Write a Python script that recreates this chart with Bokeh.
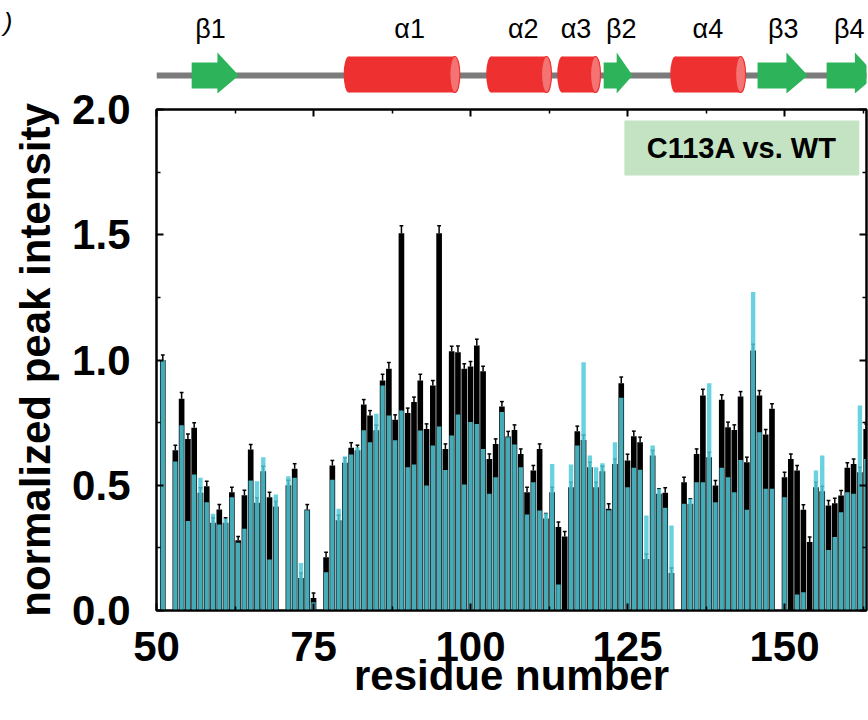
from bokeh.plotting import figure
from bokeh.models import (Range1d, LinearAxis, FixedTicker, PrintfTickFormatter,
                          CustomJSTickFormatter, BoxAnnotation, Label)
from bokeh.layouts import column
from bokeh.embed import file_html
from bokeh.resources import INLINE
from bokeh.core.properties import value

nan = float("nan")

# ---------------- data ----------------
residues = list(range(51, 164))

black_vals = [
    1.00, nan, 0.64, 0.845, 0.685, 0.73, 0.47, 0.496, 0.35, 0.403,      # 51-60
    0.35, 0.472, 0.28, 0.46, 0.643, 0.43, 0.556, 0.452, 0.415, nan,     # 61-70
    0.50, 0.566, 0.13, 0.403, 0.05, nan, 0.213, 0.579, 0.36, 0.59,      # 71-80
    0.65, 0.64, 0.822, 0.778, 0.72, 0.918, 0.965, 0.761, 1.506, 0.788,  # 81-90
    0.832, 0.918, 0.725, 0.898, 1.506, 0.645, 1.035, 1.031, 0.965, 0.974,  # 91-100
    1.058, 0.955, 0.605, 0.665, 0.814, 0.695, 0.721, 0.625, 0.472, 0.559,  # 101-110
    0.645, 0.367, 0.472, 0.333, 0.295, 0.492, 0.716, 0.681, 0.572, 0.492,  # 111-120
    0.556, 0.406, 0.585, 0.907, 0.599, 0.696, 0.672, 0.206, 0.619, 0.466,  # 121-130
    0.47, 0.15, nan, 0.512, 0.426, 0.625, 0.858, 0.612, 0.499, 0.841,   # 131-140
    0.732, 0.721, 0.854, 0.592, 1.038, 0.858, 0.703, 0.805, nan, 0.532,  # 141-150
    0.605, 0.559, 0.402, 0.273, 0.492, 0.476, 0.419, 0.428, 0.459, 0.57,  # 151-160
    0.585, 0.552, 0.725,                                                # 161-163
]

cyan_vals = [
    1.00, nan, 0.595, 0.74, 0.357, 0.543, 0.53, 0.432, 0.386, 0.343,
    0.366, 0.452, 0.27, 0.326, 0.519, 0.516, 0.612, 0.204, 0.463, nan,
    0.536, 0.53, 0.19, 0.40, 0.033, nan, 0.153, 0.522, 0.406, 0.615,
    0.623, 0.652, 0.72, 0.672, 0.785, 0.898, 0.778, 0.68, 0.798, 0.572,
    0.583, 0.719, 0.499, 0.659, 0.735, 0.561, 0.699, 0.782, 0.503, 0.752,
    0.745, 0.645, 0.466, 0.532, 0.792, 0.692, 0.663, 0.572, 0.383, 0.512,
    0.399, 0.388, 0.585, 0.104, nan, 0.583, 0.659, 0.991, 0.619, 0.572,
    0.588, 0.40, 0.672, 0.849, 0.492, 0.57, 0.562, 0.379, 0.659, 0.486,
    0.41, 0.339, nan, 0.426, 0.446, 0.512, 0.512, 0.907, 0.432, 0.57,
    0.532, 0.472, 0.601, 0.402, 1.271, 0.712, 0.486, 0.486, nan, 0.452,
    nan, 0.064, 0.073, nan, 0.559, 0.619, 0.242, 0.293, 0.392, 0.472,
    0.466, 0.818, 0.605,
]

black_err = [
    0.02, nan, 0.02, 0.025, 0.02, 0.02, 0.02, 0.02, 0.02, 0.02,
    0.02, 0.02, 0.015, 0.02, 0.02, 0.02, 0.02, 0.02, 0.02, nan,
    0.02, 0.02, 0.02, 0.02, 0.02, nan, 0.02, 0.02, 0.02, 0.02,
    0.02, 0.02, 0.02, 0.02, 0.02, 0.025, 0.025, 0.02, 0.03, 0.02,
    0.02, 0.025, 0.02, 0.02, 0.03, 0.02, 0.02, 0.025, 0.02, 0.02,
    0.025, 0.02, 0.02, 0.02, 0.02, 0.02, 0.02, 0.02, 0.02, 0.02,
    0.02, 0.02, 0.02, 0.02, 0.02, 0.02, 0.02, 0.02, 0.02, 0.02,
    0.02, 0.02, 0.02, 0.025, 0.025, 0.02, 0.02, 0.02, 0.02, 0.02,
    0.02, 0.02, nan, 0.02, 0.02, 0.02, 0.025, 0.02, 0.02, 0.02,
    0.02, 0.02, 0.02, 0.02, 0.025, 0.02, 0.02, 0.02, nan, 0.02,
    0.02, 0.02, 0.02, 0.02, 0.02, 0.02, 0.02, 0.02, 0.02, 0.02,
    0.02, 0.02, 0.02,
]

x_ticks = [50, 75, 100, 125, 150]
x_minor = [62.5, 87.5, 112.5, 137.5, 162.5]
y_ticks = [0.0, 0.5, 1.0, 1.5, 2.0]
y_minor = [0.25, 0.75, 1.25, 1.75]

# secondary structure (residue ranges) and label positions
ss_labels = ["β1", "α1", "α2", "α3", "β2", "α4", "β3", "β4"]
ss_kind = ["strand", "helix", "helix", "helix", "strand", "helix", "strand", "strand"]
ss_start = [55.6, 80.6, 103.3, 114.6, 121.2, 132.6, 145.7, 156.7]
ss_end = [63.1, 97.5, 112.1, 119.9, 125.8, 143.0, 153.7, 164.6]
ss_label_x = [58.6, 90.3, 108.4, 116.8, 124.0, 137.8, 149.8, 160.3]

legend_text = "C113A vs. WT"
corner_text = ")"   # fragment of the neighbouring panel letter, top-left corner

# ---------------- layout constants ----------------
X0, X1 = 50.0, 163.05
LEFT, FW, RIGHT = 155, 710, 3
TOP_H, GAP, FH = 93, 16, 501
kpx = FW / (X1 - X0)
FONT = "Liberation Sans"
RED = "#EE3030"
GREEN = "#2DB45B"
CYAN = "#4FCAD8"

xr = Range1d(X0, X1)

# ---------------- top: secondary structure ----------------
# y in pixels above the bottom of this strip
top = figure(x_range=xr, y_range=Range1d(0, TOP_H),
             frame_width=FW, frame_height=TOP_H,
             min_border_left=LEFT, min_border_right=RIGHT,
             min_border_top=0, min_border_bottom=0,
             output_backend="svg", toolbar_location=None,
             x_axis_location=None, y_axis_location="left")
top.outline_line_color = None
top.xgrid.grid_line_color = None
top.ygrid.grid_line_color = None

corner_y = TOP_H - 9
tya = top.yaxis[0]
tya.ticker = FixedTicker(ticks=[corner_y], minor_ticks=[])
tya.major_label_overrides = {corner_y: corner_text}
tya.axis_line_color = None
tya.major_tick_line_color = None
tya.minor_tick_line_color = None
tya.major_tick_in = 0
tya.major_tick_out = 0
tya.minor_tick_in = 0
tya.minor_tick_out = 0
tya.major_label_standoff = 144
tya.major_label_text_font = FONT
tya.major_label_text_font_size = "26px"
tya.major_label_text_font_style = "italic"
tya.major_label_text_color = "black"

LINE_Y = 18
top.line(x=[X0, X1 + 1], y=[LINE_Y, LINE_Y], line_width=6, line_color="#7B7B7B")

h_idx = [i for i, kd in enumerate(ss_kind) if kd == "helix"]
h_s = [ss_start[i] for i in h_idx]
h_e = [ss_end[i] for i in h_idx]
top.quad(left=h_s, right=h_e, bottom=LINE_Y - 17, top=LINE_Y + 19,
         fill_color=RED, line_color=None)
top.ellipse(x=h_s, y=LINE_Y + 1, width=10 / kpx, height=36, fill_color=RED, line_color=None)
top.ellipse(x=h_e, y=LINE_Y + 1, width=10 / kpx, height=36, fill_color="#F47474",
            line_color=RED, line_width=1.2)

s_idx = [i for i, kd in enumerate(ss_kind) if kd == "strand"]
xs, ys = [], []
for i in s_idx:
    s, e = ss_start[i], ss_end[i]
    h = min(3.4, 0.55 * (e - s))
    xs.append([s, e - h, e - h, e, e - h, e - h, s])
    ys.append([LINE_Y - 13, LINE_Y - 13, LINE_Y - 18, LINE_Y, LINE_Y + 23,
               LINE_Y + 13, LINE_Y + 13])
top.patches(xs=xs, ys=ys, fill_color=GREEN, line_color=None)

top.text(x=ss_label_x, y=[TOP_H - 28] * len(ss_label_x), text=ss_labels,
         text_align="center", text_baseline="middle",
         text_font=value(FONT), text_font_size="27px", text_color="black")

# ---------------- main bar chart ----------------
p = figure(x_range=xr, y_range=Range1d(0, 2.0),
           frame_width=FW, frame_height=FH,
           min_border_left=LEFT, min_border_right=RIGHT,
           min_border_top=GAP, min_border_bottom=110,
           output_backend="svg", toolbar_location=None)
p.xgrid.visible = False
p.ygrid.visible = False
p.outline_line_color = "black"
p.outline_line_width = 2

p.vbar(x=residues, width=0.9, top=black_vals, bottom=0,
       fill_color="black", line_color=None)

err_top = [b + e for b, e in zip(black_vals, black_err)]
p.segment(x0=residues, y0=black_vals, x1=residues, y1=err_top,
          line_color="black", line_width=1.5)
p.segment(x0=[r - 0.3 for r in residues], y0=err_top,
          x1=[r + 0.3 for r in residues], y1=err_top,
          line_color="black", line_width=1.5)

p.vbar(x=residues, width=0.7, top=cyan_vals, bottom=0,
       fill_color=CYAN, fill_alpha=0.85, line_color=None)

p.add_layout(BoxAnnotation(left=124.5, right=161.9, bottom=1.737, top=1.956,
                           fill_color="#C3E3C3", fill_alpha=1.0, line_color=None))
p.add_layout(Label(x=143.2, y=1.846, text=legend_text, text_align="center",
                   text_baseline="middle", text_font=FONT, text_font_size="29px",
                   text_font_style="bold", text_color="black"))

xa = p.xaxis[0]
xa.ticker = FixedTicker(ticks=x_ticks, minor_ticks=x_minor)
ya = p.yaxis[0]
ya.ticker = FixedTicker(ticks=y_ticks, minor_ticks=y_minor)
ya.formatter = PrintfTickFormatter(format="%.1f")

for ax in (xa, ya):
    ax.major_tick_in = 7
    ax.major_tick_out = 0
    ax.minor_tick_in = 4
    ax.minor_tick_out = 0
    ax.major_tick_line_width = 2
    ax.minor_tick_line_width = 1.5
    ax.axis_line_width = 2
    ax.major_label_text_font = FONT
    ax.major_label_text_font_size = "42px"
    ax.major_label_text_font_style = "bold"
    ax.major_label_text_color = "black"
    ax.axis_label_text_font = FONT
    ax.axis_label_text_font_size = "42px"
    ax.axis_label_text_font_style = "bold"
    ax.axis_label_text_color = "black"

xa.axis_label = "residue number"
xa.major_label_standoff = 21
xa.axis_label_standoff = -12
ya.axis_label = "normalized peak intensity"
ya.major_label_standoff = 26
ya.axis_label_standoff = 10

blank = CustomJSTickFormatter(code="return ''")
ra = LinearAxis(ticker=FixedTicker(ticks=y_ticks, minor_ticks=y_minor), formatter=blank)
ta = LinearAxis(ticker=FixedTicker(ticks=x_ticks, minor_ticks=x_minor), formatter=blank)
for ax in (ra, ta):
    ax.major_tick_in = 7
    ax.major_tick_out = 0
    ax.minor_tick_in = 4
    ax.minor_tick_out = 0
    ax.major_tick_line_width = 2
    ax.minor_tick_line_width = 1.5
    ax.axis_line_width = 2
    ax.major_label_standoff = 0
p.add_layout(ra, "right")
p.add_layout(ta, "above")

layout = column(top, p, spacing=0)
open("out.html", "w").write(file_html(layout, INLINE))
